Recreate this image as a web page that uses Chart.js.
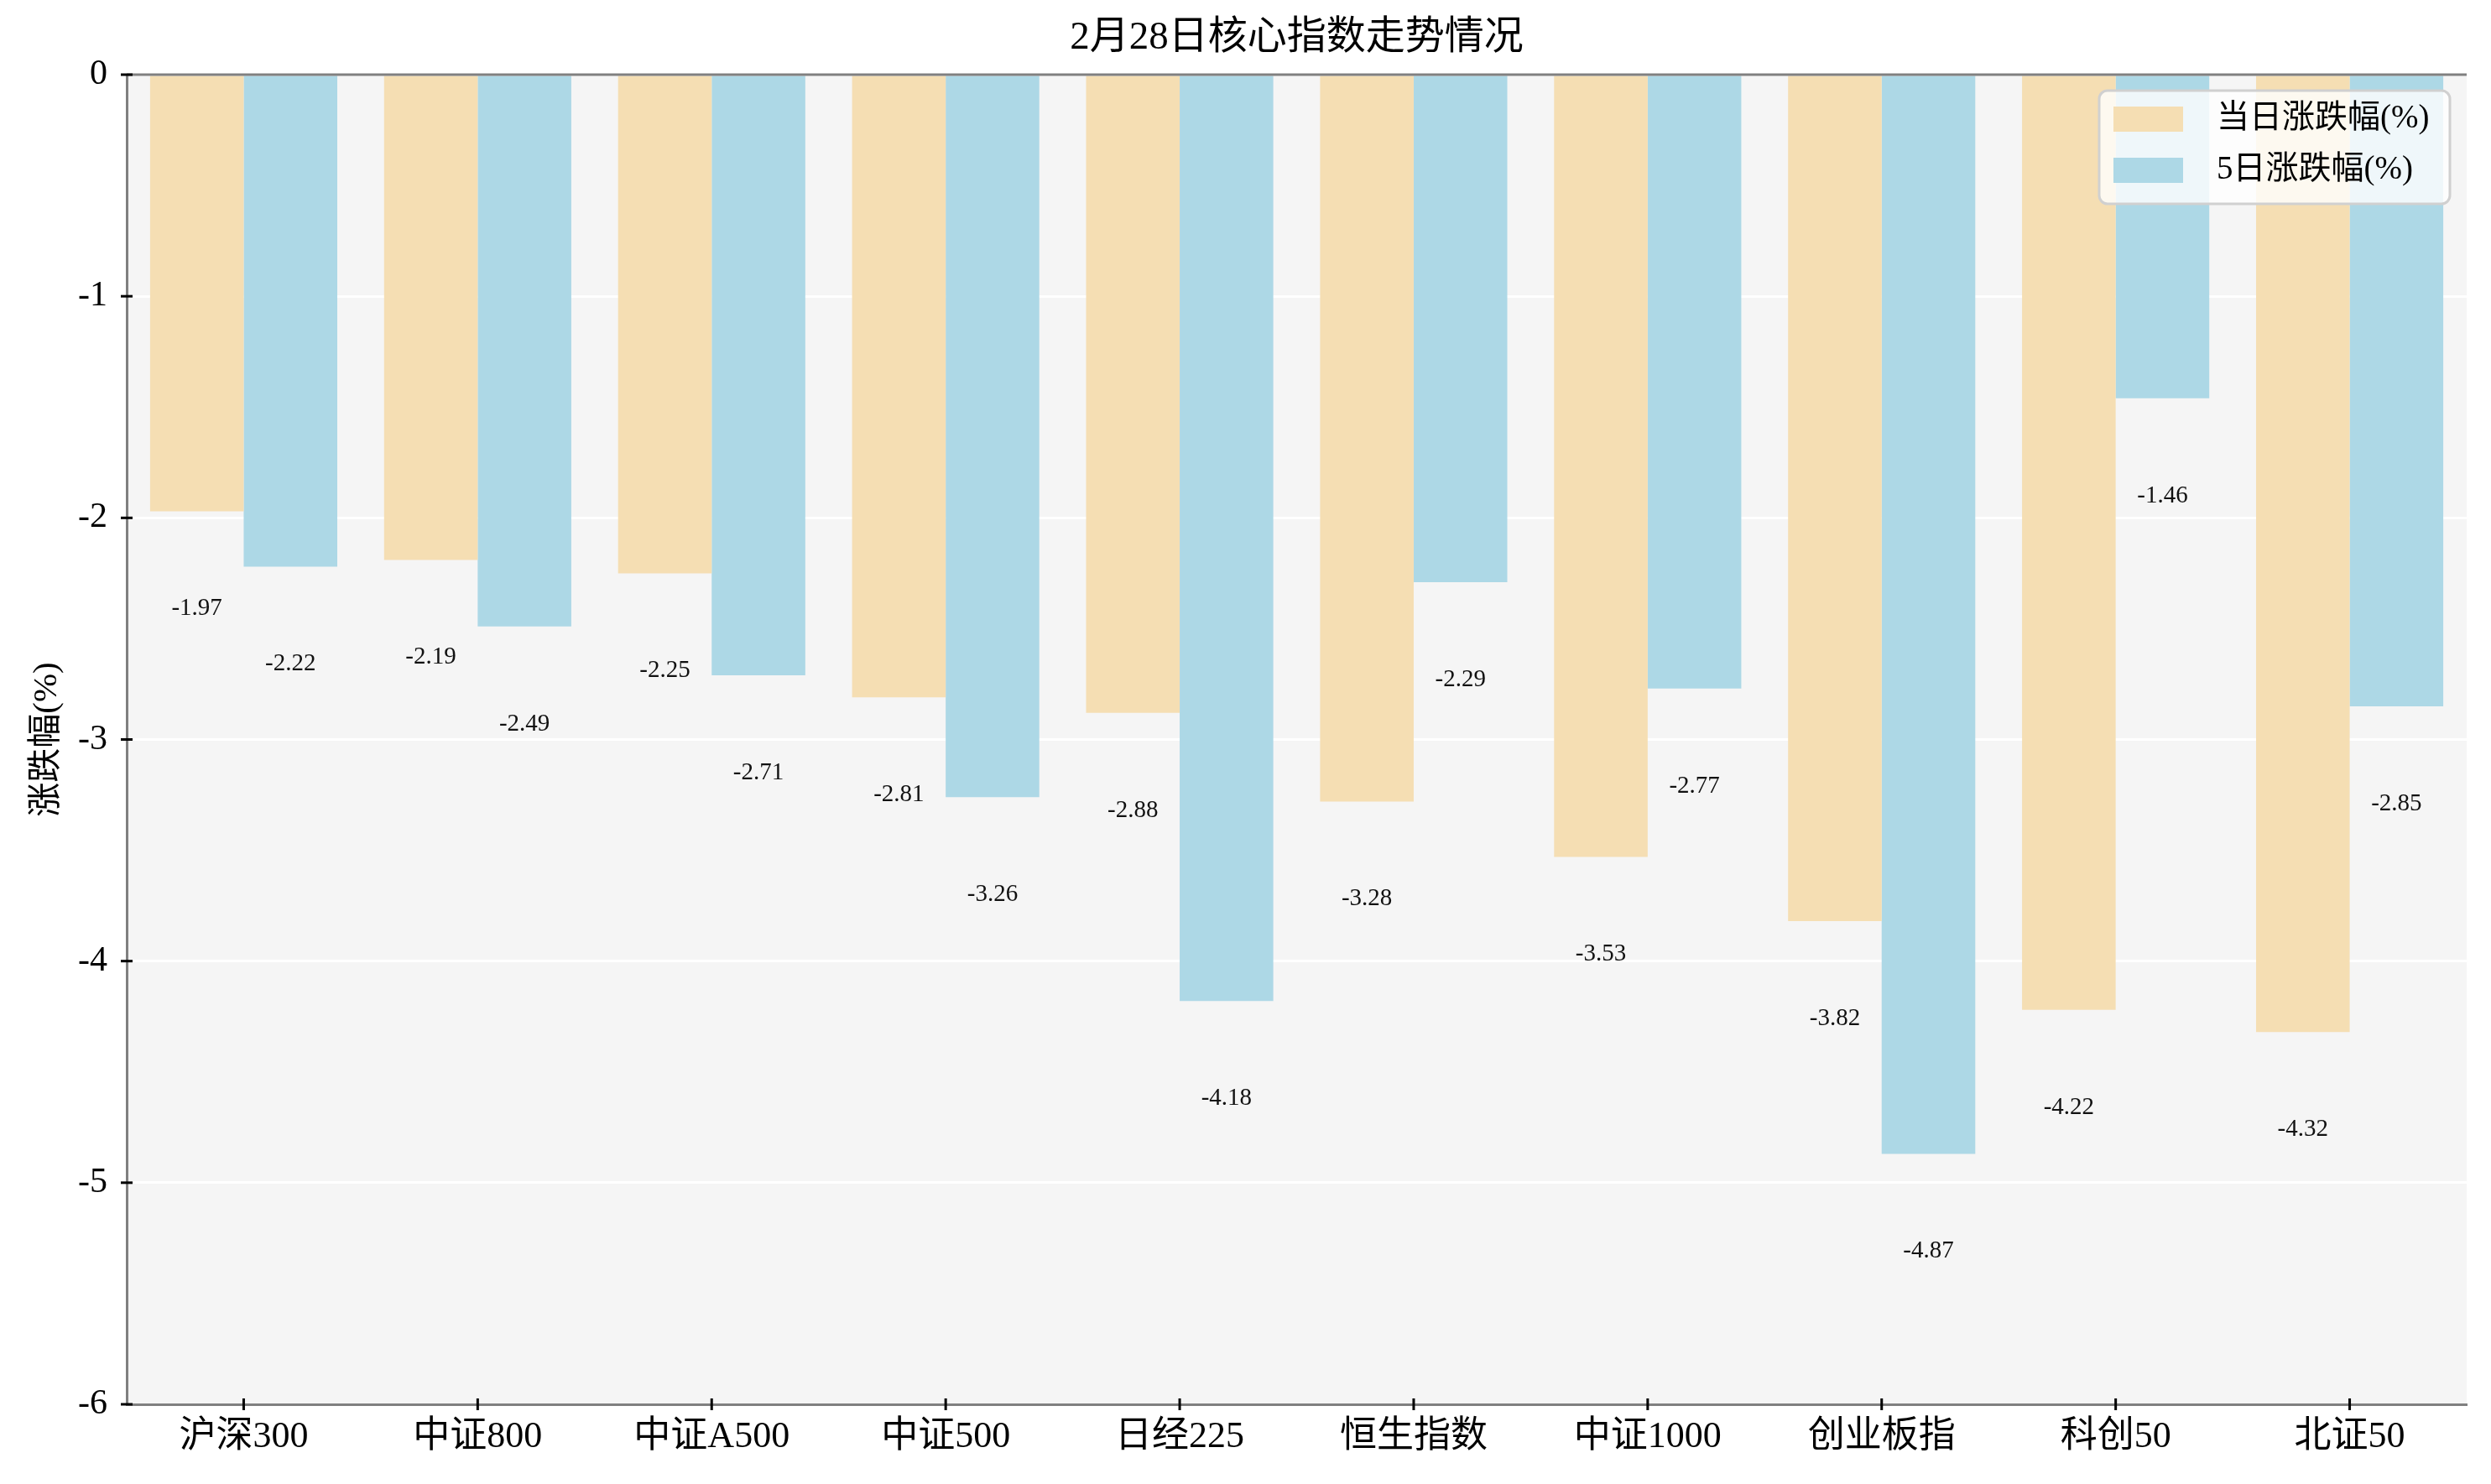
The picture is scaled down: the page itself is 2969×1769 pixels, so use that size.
<!DOCTYPE html>
<html>
<head>
<meta charset="utf-8">
<script src="https://cdn.jsdelivr.net/npm/chart.js@4.4.1/dist/chart.umd.min.js"></script>
<style>
  html, body { margin: 0; padding: 0; background: #fff; }
</style>
</head>
<body>
<canvas id="chart" width="2969" height="1769"></canvas>
<script>
const categories = ["沪深300", "中证800", "中证A500", "中证500", "日经225", "恒生指数", "中证1000", "创业板指", "科创50", "北证50"]
const dailyChange = [-1.97, -2.19, -2.25, -2.81, -2.88, -3.28, -3.53, -3.82, -4.22, -4.32]
const fiveDayChange = [-2.22, -2.49, -2.71, -3.26, -4.18, -2.29, -2.77, -4.87, -1.46, -2.85]
const seriesNames = ["当日涨跌幅(%)", "5日涨跌幅(%)"]
const yMin = -6
const yMax = 0

const FONT = "'Liberation Serif', 'Noto Sans CJK SC', serif"
const colors = ["#F5DEB3", "#ADD8E6"]

// plot background
const plotBackground = {
  id: "plotBackground",
  beforeDraw(chart) {
    const { ctx, chartArea: a } = chart
    ctx.save()
    ctx.fillStyle = "#F5F5F5"
    ctx.fillRect(a.left, a.top, a.right - a.left, a.bottom - a.top)
    ctx.restore()
  }
}

// ticks that cross the axis lines, plus the top spine
const axisTicks = {
  id: "axisTicks",
  afterDraw(chart) {
    const { ctx, chartArea: a, scales } = chart
    ctx.save()
    ctx.strokeStyle = "#808080"
    ctx.lineWidth = 3
    ctx.beginPath()
    ctx.moveTo(a.left, a.top)
    ctx.lineTo(a.right, a.top)
    ctx.stroke()

    ctx.strokeStyle = "#000"
    ctx.lineWidth = 3
    scales.y.ticks.forEach((t, i) => {
      const y = scales.y.getPixelForTick(i)
      ctx.beginPath()
      ctx.moveTo(a.left - 7, y)
      ctx.lineTo(a.left + 7, y)
      ctx.stroke()
    })
    categories.forEach((c, i) => {
      const x = scales.x.getPixelForTick(i)
      ctx.beginPath()
      ctx.moveTo(x, a.bottom - 7)
      ctx.lineTo(x, a.bottom + 7)
      ctx.stroke()
    })
    ctx.restore()
  }
}

// value labels under each bar
const valueLabels = {
  id: "valueLabels",
  afterDatasetsDraw(chart) {
    const { ctx, scales } = chart
    ctx.save()
    ctx.font = "29px " + FONT
    ctx.fillStyle = "#111"
    ctx.textAlign = "center"
    ctx.textBaseline = "middle"
    chart.data.datasets.forEach((ds, di) => {
      chart.getDatasetMeta(di).data.forEach((bar, i) => {
        const v = ds.data[i]
        ctx.fillText(v.toFixed(2), bar.x, scales.y.getPixelForValue(v - 0.44))
      })
    })
    ctx.restore()
  }
}

// legend box in the upper right corner of the plot
const cornerLegend = {
  id: "cornerLegend",
  afterDraw(chart) {
    const { ctx, chartArea: a } = chart
    const boxRight = a.right - 20, boxTop = a.top + 19
    const boxW = 418, boxH = 135
    const x0 = boxRight - boxW
    ctx.save()
    ctx.beginPath()
    ctx.roundRect(x0, boxTop, boxW, boxH, 10)
    ctx.fillStyle = "rgba(255,255,255,0.8)"
    ctx.fill()
    ctx.lineWidth = 3
    ctx.strokeStyle = "#d0d0d0"
    ctx.stroke()

    ctx.font = "39px " + FONT
    ctx.textBaseline = "middle"
    ctx.textAlign = "left"
    chart.data.datasets.forEach((ds, i) => {
      const cy = boxTop + 34 + i * 61
      ctx.fillStyle = ds.backgroundColor
      ctx.fillRect(x0 + 17, cy - 15, 83, 30)
      ctx.fillStyle = "#000"
      ctx.fillText(ds.label, x0 + 140, cy)
    })
    ctx.restore()
  }
}

new Chart(document.getElementById("chart"), {
  type: "bar",
  data: {
    labels: categories,
    datasets: [
      { label: seriesNames[0], data: dailyChange, backgroundColor: colors[0] },
      { label: seriesNames[1], data: fiveDayChange, backgroundColor: colors[1] }
    ]
  },
  options: {
    responsive: false,
    devicePixelRatio: 1,
    animation: false,
    categoryPercentage: 0.8,
    barPercentage: 1.0,
    layout: { padding: { left: 0, right: 29, top: 0, bottom: 0 } },
    plugins: {
      legend: { display: false },
      tooltip: { enabled: false },
      title: {
        display: true,
        fullSize: false,
        text: "2月28日核心指数走势情况",
        color: "#000",
        font: { family: FONT, size: 47, weight: "normal" },
        padding: { top: 17, bottom: 15.6 }
      }
    },
    scales: {
      x: {
        grid: { display: true, color: "rgba(0,0,0,0)", drawTicks: false },
        border: { display: true, color: "#808080", width: 3 },
        ticks: { color: "#000", padding: 13, font: { family: FONT, size: 44 } },
        afterFit(s) { s.height = 95 }
      },
      y: {
        min: yMin,
        max: yMax,
        ticks: { stepSize: 1, color: "#000", padding: 23, font: { family: FONT, size: 42 } },
        grid: { color: "#ffffff", lineWidth: 3, drawTicks: false },
        border: { display: true, color: "#808080", width: 3 },
        title: {
          display: true,
          text: "涨跌幅(%)",
          color: "#000",
          font: { family: FONT, size: 41 },
          padding: { top: 32, bottom: 0 }
        },
        afterFit(s) { s.width = 151 }
      }
    }
  },
  plugins: [plotBackground, valueLabels, axisTicks, cornerLegend]
})
</script>
</body>
</html>
